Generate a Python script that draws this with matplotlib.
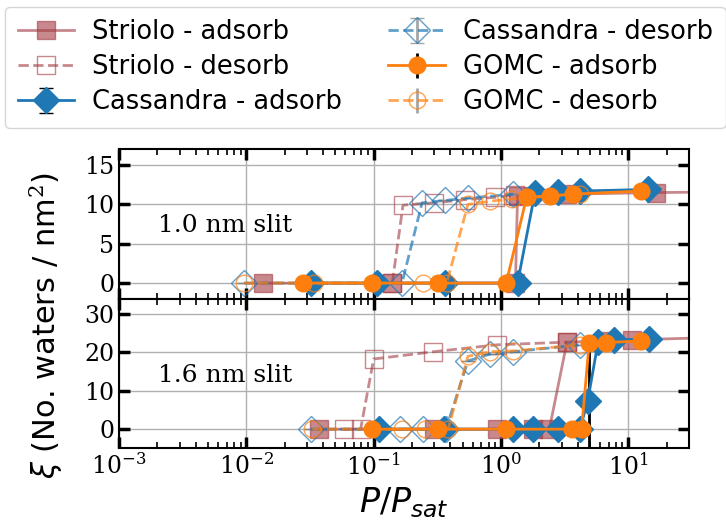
import numpy as np
import matplotlib
matplotlib.use("Agg")
import matplotlib.pyplot as plt

plt.rcParams['mathtext.fontset'] = 'custom'
plt.rcParams['mathtext.rm'] = 'DejaVu Serif'
plt.rcParams['mathtext.it'] = 'DejaVu Sans:italic'
plt.rcParams['mathtext.bf'] = 'DejaVu Serif:bold'

# ---- 1.0 nm slit ----
striolo_ads_top_p = [0.0135, 0.14, 1.3, 1.35, 3.3, 16.5, 60]
striolo_ads_top_w = [0, 0, 0, 11.1, 11.3, 11.5, 11.6]
striolo_des_top_p = [0.14, 0.17, 0.3, 0.52, 0.9, 1.3]
striolo_des_top_w = [0, 9.9, 10.2, 10.6, 10.9, 11.2]
cass_ads_top_p = [0.032, 0.106, 0.365, 1.35, 1.85, 2.8, 4.2, 14.3]
cass_ads_top_w = [0, 0, 0, 0, 11.5, 11.6, 11.7, 11.9]
cass_des_top_p = [0.0096, 0.167, 0.24, 0.365, 0.55, 1.25]
cass_des_top_w = [0, 0, 10.2, 10.5, 10.8, 11.3]
gomc_ads_top_p = [0.028, 0.097, 0.323, 1.10, 1.59, 2.43, 3.65, 12.7]
gomc_ads_top_w = [0, 0, 0, 0, 10.9, 11.1, 11.3, 11.7]
gomc_des_top_p = [0.0095, 0.034, 0.246, 0.375, 0.55, 0.82, 1.22, 4.17]
gomc_des_top_w = [0, 0, 0, 0, 10.0, 10.4, 10.7, 11.3]

# ---- 1.6 nm slit ----
striolo_ads_bot_p = [0.037, 0.3, 0.93, 1.8, 2.4, 3.3, 6.8, 10.7, 60]
striolo_ads_bot_w = [0, 0, 0, 0, 0, 22.7, 23.0, 23.3, 24.0]
striolo_des_bot_p = [0.058, 0.079, 0.100, 0.295, 0.93, 3.3]
striolo_des_bot_w = [0, 0, 18.3, 20.2, 22.0, 22.7]
cass_ads_bot_p = [0.111, 0.354, 1.25, 1.8, 2.8, 4.17, 4.8, 5.8, 7.7, 14.5]
cass_ads_bot_w = [0, 0, 0, 0, 0, 0, 7.3, 22.8, 23.2, 23.6]
cass_des_bot_p = [0.032, 0.162, 0.246, 0.37, 0.55, 0.82, 1.25, 4.17]
cass_des_bot_w = [0, 0, 0, 0, 17.8, 19.6, 20.2, 22.0]
gomc_ads_bot_p = [0.097, 0.323, 1.10, 3.6, 4.3, 4.93, 6.7, 12.6]
gomc_ads_bot_w = [0, 0, 0, 0, 0, 22.4, 22.6, 23.0]
gomc_ads_bot_err_lo = [0, 0, 0, 0, 0, 30, 0, 0]
gomc_des_bot_p = [0.033, 0.167, 0.254, 0.385, 0.55, 0.82, 1.25, 4.17]
gomc_des_bot_w = [0, 0, 0, 0, 19.0, 20.2, 20.4, 22.0]

slit_labels = ['1.0 nm slit', '1.6 nm slit']

c_str = '#a23b42'
c_cas = '#1f77b4'
c_gom = '#ff7f0e'

fig, (ax1, ax2) = plt.subplots(2, 1, sharex=True, figsize=(7.26, 5.21), dpi=100)
fig.subplots_adjust(left=0.164, right=0.949, top=0.7134, bottom=0.1395, hspace=0)


def draw(ax, sa, sd, ca, cd, ga, gd, gerr=None):
    ax.plot(sa[0], sa[1], 's-', color=c_str, alpha=0.6, ms=13, lw=2,
            label='Striolo - adsorb')
    ax.plot(sd[0], sd[1], 's--', color=c_str, alpha=0.6, ms=13, lw=2,
            mfc='none', label='Striolo - desorb')
    ax.errorbar(ca[0], ca[1], yerr=np.zeros(len(ca[0])), fmt='D-', color=c_cas,
                ecolor='k', capsize=5, ms=13, lw=2, elinewidth=2,
                label='Cassandra - adsorb')
    ax.errorbar(cd[0], cd[1], yerr=np.zeros(len(cd[0])), fmt='D--', color=c_cas,
                ecolor='gray', capsize=5, ms=13, lw=2, mfc='none', alpha=0.7,
                elinewidth=2, label='Cassandra - desorb')
    if gerr is None:
        gerr = np.zeros(len(ga[0]))
    else:
        gerr = [gerr, np.zeros(len(ga[0]))]
    ax.errorbar(ga[0], ga[1], yerr=gerr, fmt='o-', color=c_gom, ecolor='k',
                ms=12, lw=2, elinewidth=2, label='GOMC - adsorb')
    ax.errorbar(gd[0], gd[1], yerr=np.zeros(len(gd[0])), fmt='o--', color=c_gom,
                ecolor='gray', ms=12, lw=2, mfc='none', alpha=0.7, elinewidth=2,
                label='GOMC - desorb')


draw(ax1, (striolo_ads_top_p, striolo_ads_top_w), (striolo_des_top_p, striolo_des_top_w),
     (cass_ads_top_p, cass_ads_top_w), (cass_des_top_p, cass_des_top_w),
     (gomc_ads_top_p, gomc_ads_top_w), (gomc_des_top_p, gomc_des_top_w))
draw(ax2, (striolo_ads_bot_p, striolo_ads_bot_w), (striolo_des_bot_p, striolo_des_bot_w),
     (cass_ads_bot_p, cass_ads_bot_w), (cass_des_bot_p, cass_des_bot_w),
     (gomc_ads_bot_p, gomc_ads_bot_w), (gomc_des_bot_p, gomc_des_bot_w),
     gerr=gomc_ads_bot_err_lo)

ax1.set_ylim(-2, 17)
ax1.set_yticks([0, 5, 10, 15])
ax2.set_ylim(-5, 34)
ax2.set_yticks([0, 10, 20, 30])
ax2.set_xscale('log')
ax2.set_xlim(1e-3, 30)

for ax, lab in zip((ax1, ax2), slit_labels):
    ax.grid(True, which='major', color='#b0b0b0', lw=1)
    ax.set_axisbelow(True)
    ax.tick_params(which='both', direction='in', top=True, right=True,
                   labelsize=17, labelfontfamily='DejaVu Serif')
    ax.tick_params(which='major', length=8, width=2.5)
    ax.tick_params(which='minor', length=4, width=1.2)
    for s in ax.spines.values():
        s.set_linewidth(1.5)
    ax.text(0.068, 0.49, lab, transform=ax.transAxes, family='DejaVu Serif',
            fontsize=18, va='center')

ax2.set_xlabel(r'$P/P_{sat}$', fontsize=24, labelpad=4)
fig.text(0.062, 0.376, r'$\xi$ (No. waters / nm$^2$)', rotation=90,
         ha='center', va='center', fontsize=22)

handles, labels = ax1.get_legend_handles_labels()
fig.legend(handles, labels, loc='upper center', bbox_to_anchor=(0.503, 1.012),
           ncol=2, fontsize=18.5, handlelength=2.2, handletextpad=0.7,
           labelspacing=0.35, borderpad=0.5, columnspacing=1.8)

fig.savefig('out.png', dpi=100)
